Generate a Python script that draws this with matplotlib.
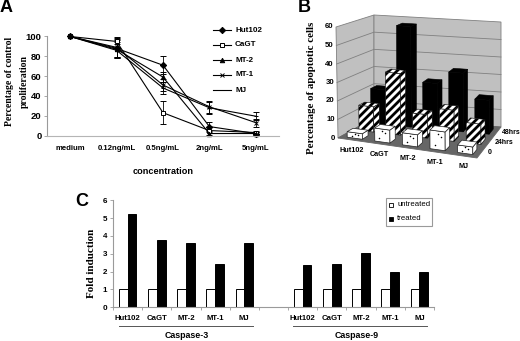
import matplotlib
matplotlib.use('Agg')
import matplotlib.pyplot as plt
from matplotlib.patches import Polygon, Rectangle
import numpy as np

SANS = 'Liberation Sans'
SERIF = 'Liberation Serif'
GREY = '#9a9a9a'

# panel A
conc = ['medium', '0.12ng/mL', '0.5ng/mL', '2ng/mL', '5ng/mL']
hut102 = [100, 88, 71, 9, 2]
cagt = [100, 95, 23, 5, 3]
mt2 = [100, 87, 59, 2, 2]
mt1 = [100, 89, 51, 29, 13]
mj = [100, 86, 48, 28, 19.5]
hut102_err = [0, 9, 9, 5, 1.5]
cagt_err = [0, 3, 11.5, 4, 1.5]
mt2_err = [0, 9, 5, 3, 1.5]
mt1_err = [0, 10, 6, 6, 4]
mj_err = [0, 8, 6, 6, 4]

# panel B
cells = ['Hut102', 'CaGT', 'MT-2', 'MT-1', 'MJ']
times = ['0', '24hrs', '48hrs']
apop_0 = [3, 7, 6.5, 10, 4]
apop_24 = [14, 34, 13, 17, 11]
apop_48 = [20, 57, 26, 33, 19]

# panel C
casp3_untreated = [1, 1, 1, 1, 1]
casp3_treated = [5.25, 3.75, 3.6, 2.45, 3.63]
casp9_untreated = [1, 1, 1, 1, 1]
casp9_treated = [2.38, 2.45, 3.05, 1.97, 1.97]

W, H = 520, 341
fig = plt.figure(figsize=(W/100, H/100), dpi=100)


def px_axes(left, top, right, bottom):
    return fig.add_axes([left/W, 1-bottom/H, (right-left)/W, (bottom-top)/H])


# overlay in pixel coordinates, for the 3D panel and loose labels
ov = fig.add_axes([0, 0, 1, 1])
ov.set_xlim(0, W)
ov.set_ylim(H, 0)
ov.axis('off')
ov.set_zorder(3)

for letter, x, y in [('A', 0, 8), ('B', 298, 8), ('C', 75, 202)]:
    ov.text(x, y, letter, family=SANS, weight='bold', fontsize=13, va='center')

# ---- A
ax = px_axes(47, 36.5, 279, 135.5)
series = [('Hut102', hut102, hut102_err, 'D', 'k'),
          ('CaGT', cagt, cagt_err, 's', 'white'),
          ('MT-2', mt2, mt2_err, '^', 'k'),
          ('MT-1', mt1, mt1_err, 'x', 'k'),
          ('MJ', mj, mj_err, '_', 'k')]
xpos = np.arange(len(conc))
for name, vals, err, mk, fc in series:
    ax.errorbar(xpos, vals, yerr=err, color='k', lw=0.8, marker=mk, ms=3.2, mfc=fc, mec='k',
                mew=0.7, capsize=2, elinewidth=0.6, capthick=0.6, clip_on=False)
ax.set_xlim(-0.5, 4.5)
ax.set_ylim(0, 100)
ax.set_xticks(xpos)
ax.set_xticklabels(conc, family=SANS, weight='bold', fontsize=5.6)
ax.set_yticks(range(0, 101, 20))
ax.set_yticklabels(range(0, 101, 20), family=SANS, weight='bold', fontsize=6.8)
ax.tick_params(axis='x', length=0, pad=7)
ax.tick_params(axis='y', length=2, width=0.6, color=GREY, pad=2)
ax.spines['top'].set_visible(False)
ax.spines['right'].set_visible(False)
ax.spines['left'].set_color(GREY)
ax.spines['bottom'].set_color('#b5b5b5')
ax.patch.set_alpha(0)
ov.text(10, 81, 'Percentage of control', rotation=90, family=SERIF, weight='bold',
        fontsize=7, ha='center', va='center')
ov.text(24, 81, 'proliferation', rotation=90, family=SERIF, weight='bold',
        fontsize=7, ha='center', va='center')
ov.text(163, 171, 'concentration', family=SANS, weight='bold', fontsize=6.6, ha='center', va='center')

leg_y = [30, 45, 60, 75, 90]
for (name, vals, err, mk, fc), ly in zip(series, leg_y):
    ov.plot([213, 231], [ly, ly], color='k', lw=0.8, zorder=3)
    ov.plot([222], [ly], color='k', marker=mk, ms=3.2, mfc=fc, mec='k', mew=0.7, zorder=4)
    ov.text(235, ly, name, family=SANS, weight='bold', fontsize=5.8, va='center')

# ---- B, drawn by a small projection of (category, depth, value) to pixels
FL0, FR0, BL0, BR0 = np.array([338, 138.]), np.array([477, 158.]), np.array([374, 118.]), np.array([501, 127.])
FL6, FR6, BL6, BR6 = np.array([336, 27.]), np.array([477, 44.]), np.array([374, 15.]), np.array([501, 22.])


def bilin(a, b, c, d, u, t):
    return (1-t)*((1-u)*a + u*b) + t*((1-u)*c + u*d)


def proj(u, t, v):
    low = bilin(FL0, FR0, BL0, BR0, u, t)
    top = bilin(FL6, FR6, BL6, BR6, u, t)
    return low + (top-low)*v/60.0


def quad(pts, **kw):
    p = Polygon(pts, closed=True, **kw)
    ov.add_patch(p)
    return p


def stripes(pts):
    # wide black diagonal stripes, clipped to one bar face
    clip = quad(pts, fc='white', ec='none', zorder=2)
    pts = np.array(pts)
    for c in np.arange(0, 520, 8.0):
        ln, = ov.plot([300, 500], [c, c-200], color='k', lw=2.0, zorder=2, solid_capstyle='butt')
        ln.set_clip_path(clip)
    quad(pts, fc='none', ec='k', lw=0.4, zorder=2)


quad([proj(0, 0, 0), proj(0, 1, 0), proj(0, 1, 60), proj(0, 0, 60)], fc='#c0c0c0', ec='#808080', lw=0.6)
quad([proj(0, 1, 0), proj(1, 1, 0), proj(1, 1, 60), proj(0, 1, 60)], fc='#c0c0c0', ec='#808080', lw=0.6)
quad([proj(0, 0, 0), proj(1, 0, 0), proj(1, 1, 0), proj(0, 1, 0)], fc='#666666', ec='#666666', lw=0.6)
for v in range(10, 60, 10):
    pts = np.array([proj(0, 0, v), proj(0, 1, v), proj(1, 1, v)])
    ov.plot(pts[:, 0], pts[:, 1], color='#808080', lw=0.6)
for v in range(0, 61, 10):
    p = proj(0, 0, v)
    ov.text(p[0]-3, p[1], str(v), family=SANS, weight='bold', fontsize=5.6, ha='right', va='center')

bar_u = 0.55/5
bar_t = 0.5/3
rows = [(2, apop_48), (1, apop_24), (0, apop_0)]
for j, vals in rows:
    for i, v in enumerate(vals):
        u0, u1 = (i+0.5)/5 - bar_u/2, (i+0.5)/5 + bar_u/2
        t0, t1 = (j+0.5)/3 - bar_t/2, (j+0.5)/3 + bar_t/2
        front = [proj(u0, t0, 0), proj(u1, t0, 0), proj(u1, t0, v), proj(u0, t0, v)]
        side = [proj(u1, t0, 0), proj(u1, t1, 0), proj(u1, t1, v), proj(u1, t0, v)]
        top = [proj(u0, t0, v), proj(u1, t0, v), proj(u1, t1, v), proj(u0, t1, v)]
        if j == 2:
            for q in (front, side, top):
                quad(q, fc='k', ec='k', lw=0.4, zorder=2)
        elif j == 1:
            for q in (front, side, top):
                stripes(q)
        else:
            for q in (front, side, top):
                quad(q, fc='white', ec='#222222', lw=0.5, zorder=2)
            # sparse dots on the front face
            q = front
            pts = np.array([(q[0]*(1-a) + q[1]*a)*(1-b) + (q[3]*(1-a) + q[2]*a)*b
                            for a, b in [(0.3, 0.25), (0.7, 0.7), (0.5, 0.85)]])
            ov.scatter(pts[:, 0], pts[:, 1], s=1.2, color='k', lw=0, zorder=3)

for i, c in enumerate(cells):
    p = proj((i+0.5)/5, 0, 0)
    ov.text(p[0], p[1]+10, c, family=SANS, weight='bold', fontsize=5.2, ha='center', va='center')
for j, t in enumerate(times):
    p = proj(1, (j+0.5)/3, 0)
    ov.text(p[0]+[7, 6, 5][j], p[1], t, family=SANS, weight='bold', fontsize=5, ha='left', va='center')
ov.text(312, 88, 'Percentage of apoptotic cells', rotation=90, family=SERIF, weight='bold',
        fontsize=7.8, ha='center', va='center')

# ---- C
ax = px_axes(113, 200.3, 434, 307.3)
pos3 = np.arange(5)
pos9 = np.arange(5) + 6
bw = 0.3
for pos, un, tr in [(pos3, casp3_untreated, casp3_treated), (pos9, casp9_untreated, casp9_treated)]:
    ax.bar(pos-bw/2, un, bw, color='white', edgecolor='k', lw=0.7)
    ax.bar(pos+bw/2, tr, bw, color='k', edgecolor='k', lw=0.7)
ax.set_xlim(-0.5, 10.5)
ax.set_ylim(0, 6)
ax.set_xticks(np.arange(-0.5, 11))
ax.set_xticklabels([])
ax.set_yticks(range(7))
ax.set_yticklabels(range(7), family=SANS, weight='bold', fontsize=5.8)
ax.tick_params(axis='x', length=2, width=0.6, color=GREY)
ax.tick_params(axis='y', length=2, width=0.6, color=GREY, pad=2)
ax.spines['top'].set_visible(False)
ax.spines['right'].set_visible(False)
ax.spines['left'].set_color(GREY)
ax.spines['bottom'].set_color(GREY)
ax.patch.set_alpha(0)
for pos in (pos3, pos9):
    for p, c in zip(pos, cells):
        ov.text(113 + (p+0.5)*29.18, 319, c, family=SANS, weight='bold', fontsize=5.6, ha='center', va='center')
ov.plot([119, 253], [326, 326], color='#555555', lw=0.7)
ov.plot([293, 427], [326, 326], color='#555555', lw=0.7)
ov.text(187, 336, 'Caspase-3', family=SANS, weight='bold', fontsize=6.4, ha='center', va='center')
ov.text(357, 336, 'Caspase-9', family=SANS, weight='bold', fontsize=6.4, ha='center', va='center')
ov.text(92, 263, 'Fold induction', rotation=90, family=SERIF, weight='bold', fontsize=8, ha='center', va='center')

ov.add_patch(Rectangle((386, 197.5), 46, 28, fc='white', ec=GREY, lw=0.8, zorder=5))
ov.add_patch(Rectangle((389, 203), 4, 4, fc='white', ec='k', lw=0.6, zorder=6))
ov.add_patch(Rectangle((389, 217), 4, 4, fc='k', ec='k', lw=0.6, zorder=6))
ov.text(397, 205, 'untreated', family=SANS, fontsize=5.6, va='center', zorder=6)
ov.text(397, 219, 'treated', family=SANS, fontsize=5.6, va='center', zorder=6)

fig.savefig('out.png', dpi=100)
